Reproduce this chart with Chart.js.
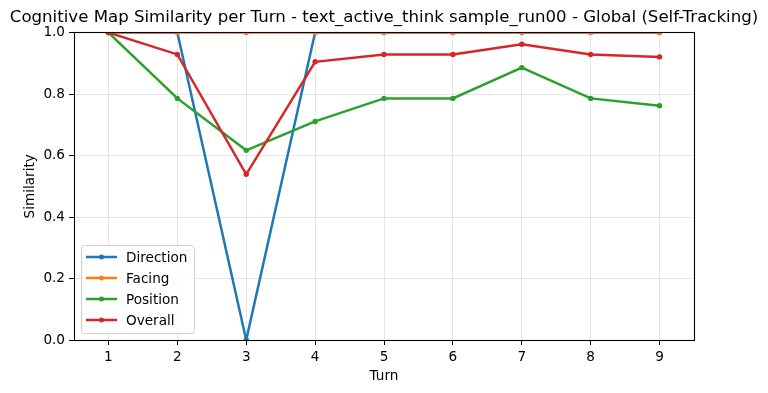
<!DOCTYPE html>
<html>
<head>
<meta charset="utf-8">
<script src="https://cdn.jsdelivr.net/npm/chart.js@4"></script>
<style>
  html, body { margin:0; padding:0; background:#fff; }
  #wrap { width:768px; height:393px; }
</style>
</head>
<body>
<div id="wrap"><canvas id="chart" width="768" height="393"></canvas></div>
<script>
// ===== Data =====
const turns = ['1','2','3','4','5','6','7','8','9'];
const direction = [1, 1, 0, 1, 1, 1, 1, 1, 1];
const facing    = [1, 1, 1, 1, 1, 1, 1, 1, 1];
const position  = [1, 0.786, 0.617, 0.711, 0.786, 0.786, 0.886, 0.786, 0.762];
const overall   = [1, 0.929, 0.539, 0.905, 0.929, 0.929, 0.962, 0.929, 0.921];

const titleText = 'Cognitive Map Similarity per Turn - text_active_think sample_run00 - Global (Self-Tracking)';
const FONT = '"DejaVu Sans", sans-serif';

function series(label, data, color, order){
  return {
    label, data, order,
    borderColor: color, backgroundColor: color,
    borderWidth: 2.5, pointRadius: 2.7, pointHoverRadius: 2.7,
    pointBorderWidth: 0, tension: 0, fill: false
  };
}

// ===== Frame, title, axis labels, legend =====
const decorations = {
  id: 'decorations',
  afterDraw(chart){
    const {ctx, chartArea:a} = chart;
    ctx.save();
    ctx.strokeStyle = '#000';
    ctx.lineWidth = 1.1;
    const fl = Math.round(a.left) + 0.5, ft = Math.floor(a.top) + 0.5;
    const fr = Math.round(a.right) + 0.5, fb = Math.round(a.bottom) + 0.5;
    ctx.strokeRect(fl, ft, fr - fl, fb - ft);

    ctx.fillStyle = '#000';
    ctx.textAlign = 'center';
    ctx.textBaseline = 'middle';
    ctx.font = '16.6px ' + FONT;
    ctx.fillText(titleText, (a.left + a.right) / 2, 18);

    ctx.font = '13.6px ' + FONT;
    ctx.fillText('Turn', (a.left + a.right) / 2, 376);
    ctx.save();
    ctx.translate(30, (a.top + a.bottom) / 2);
    ctx.rotate(-Math.PI / 2);
    ctx.fillText('Similarity', 0, 0);
    ctx.restore();

    // legend box
    const bx = 81, by = 245, bw = 113, bh = 88, r = 3;
    ctx.beginPath();
    ctx.roundRect(bx + 0.5, by + 0.5, bw, bh, r);
    ctx.fillStyle = 'rgba(255,255,255,0.8)';
    ctx.fill();
    ctx.lineWidth = 1;
    ctx.strokeStyle = '#d0d0d0';
    ctx.stroke();

    const ds = chart.data.datasets;
    ctx.textAlign = 'left';
    ctx.font = '13.6px ' + FONT;
    ds.forEach((d, i) => {
      const y = 257 + i * 21;
      ctx.strokeStyle = d.borderColor;
      ctx.lineWidth = 2.5;
      ctx.beginPath();
      ctx.moveTo(86, y);
      ctx.lineTo(117, y);
      ctx.stroke();
      ctx.fillStyle = d.borderColor;
      ctx.beginPath();
      ctx.arc(101.5, y, 2.5, 0, Math.PI * 2);
      ctx.fill();
      ctx.fillStyle = '#000';
      ctx.fillText(d.label, 126, y + 1);
    });
    ctx.restore();
  }
};

new Chart(document.getElementById('chart'), {
  type: 'line',
  data: {
    labels: turns,
    datasets: [
      series('Direction', direction, '#1f77b4', 4),
      series('Facing', facing, '#ff7f0e', 3),
      series('Position', position, '#2ca02c', 2),
      series('Overall', overall, '#d62728', 1)
    ]
  },
  options: {
    responsive: false,
    animation: false,
    layout: { padding: { top: 32.6, right: 74, left: 0, bottom: 0 } },
    plugins: { legend: { display: false }, title: { display: false }, tooltip: { enabled: false } },
    scales: {
      x: {
        type: 'category',
        offset: true,
        afterFit(s){ s.height = 53; },
        grid: { offset: false, color: 'rgba(176,176,176,0.3)', tickColor: '#000', tickLength: 5, drawOnChartArea: true },
        border: { display: false },
        ticks: { color: '#000', font: { family: FONT, size: 13.6 }, padding: 4, maxRotation: 0 }
      },
      y: {
        min: 0, max: 1,
        afterFit(s){ s.width = 74; },
        grid: { color: 'rgba(176,176,176,0.3)', tickColor: '#000', tickLength: 5 },
        border: { display: false },
        ticks: { stepSize: 0.2, color: '#000', font: { family: FONT, size: 13.6 }, padding: 4,
                 callback: v => v.toFixed(1) }
      }
    }
  },
  plugins: [decorations]
});
</script>
</body>
</html>
